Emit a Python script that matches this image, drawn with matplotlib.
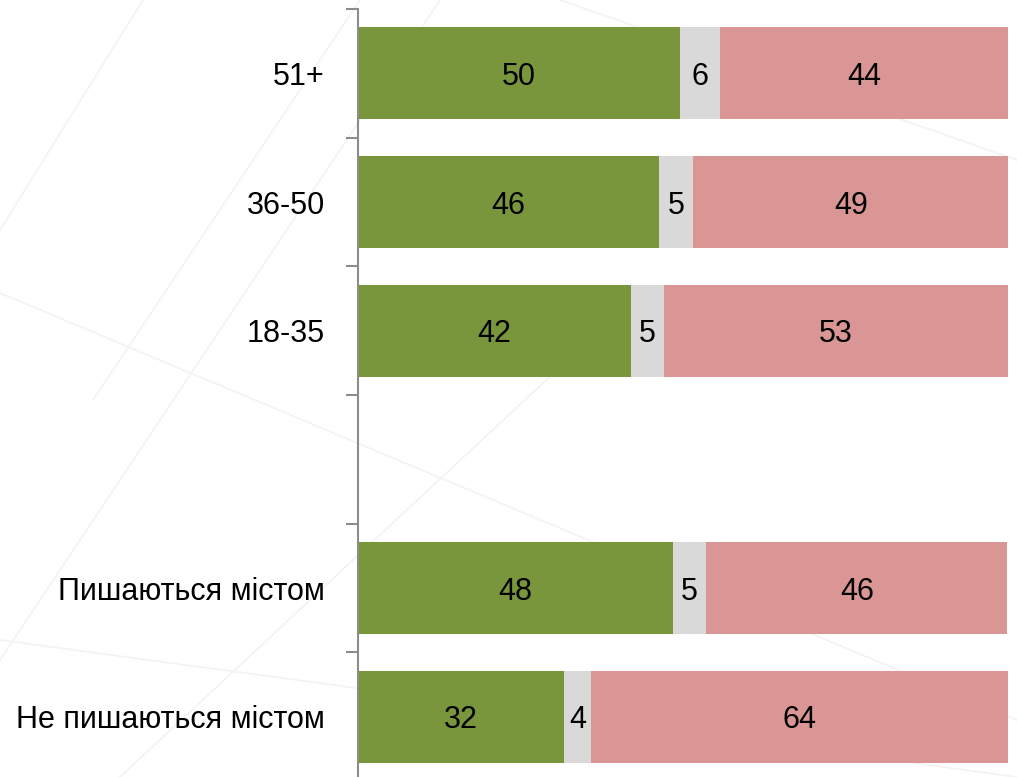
import matplotlib
matplotlib.use("Agg")
import matplotlib.pyplot as plt
import numpy as np

plt.rcParams['font.family'] = ['Liberation Sans', 'DejaVu Sans']
FS = 22

categories = ["51+", "36-50", "18-35", "", "Пишаються містом", "Не пишаються містом"]
# segment widths (as drawn) and shown labels
proud = [49.5, 46.3, 42.0, None, 48.4, 31.7]
neutral = [6.2, 5.2, 5.1, None, 5.2, 4.2]
not_proud = [44.3, 48.6, 52.9, None, 46.3, 64.2]
proud_lbl = ["50", "46", "42", "", "48", "32"]
neutral_lbl = ["6", "5", "5", "", "5", "4"]
not_proud_lbl = ["44", "49", "53", "", "46", "64"]

colors = ["#7a963c", "#d9d9d9", "#d99694"]

fig = plt.figure(figsize=(10.17, 7.77), dpi=100)
# faint background lines (pixel coords, y from top)
bg = fig.add_axes([0, 0, 1, 1], zorder=-1)
bg.set_xlim(0, 1017); bg.set_ylim(777, 0); bg.axis('off')
for (x0, y0, x1, y1) in [(0, 230, 143, 0), (0, 660, 440, 0), (93, 400, 560, -300),
                         (0, 293, 1017, 720), (0, 640, 1017, 777), (120, 777, 600, 330),
                         (560, 0, 1017, 160)]:
    bg.plot([x0, x1], [y0, y1], color="#f3f3f3", lw=1.2)

ax = fig.add_axes([358/1017, -4/777, 650/1017, 772/777])
y = np.arange(len(categories))
for i in range(len(categories)):
    if proud[i] is None:
        continue
    left = 0
    for val, lbl, c in [(proud[i], proud_lbl[i], colors[0]),
                        (neutral[i], neutral_lbl[i], colors[1]),
                        (not_proud[i], not_proud_lbl[i], colors[2])]:
        ax.barh(y[i], val, left=left, height=0.715, color=c, edgecolor='none')
        ax.text(left + val / 2, y[i], lbl, ha='center', va='center_baseline', fontsize=FS, color='black')
        left += val

ax.set_xlim(0, 100)
ax.set_ylim(len(categories) - 0.5, -0.5)
ax.set_yticks(y)
ax.set_yticklabels(categories, fontsize=FS)
ax.set_yticks(np.arange(len(categories) + 1) - 0.5, minor=True)
ax.tick_params(axis='y', which='major', length=0, pad=24)
ax.tick_params(axis='y', which='minor', length=9, width=1.5, color='#8c8c8c')
ax.set_xticks([])
for s in ['top', 'right', 'bottom']:
    ax.spines[s].set_visible(False)
ax.spines['left'].set_color('#8c8c8c')
ax.spines['left'].set_linewidth(1.5)
ax.patch.set_alpha(0)

fig.savefig("out.png", dpi=100)
